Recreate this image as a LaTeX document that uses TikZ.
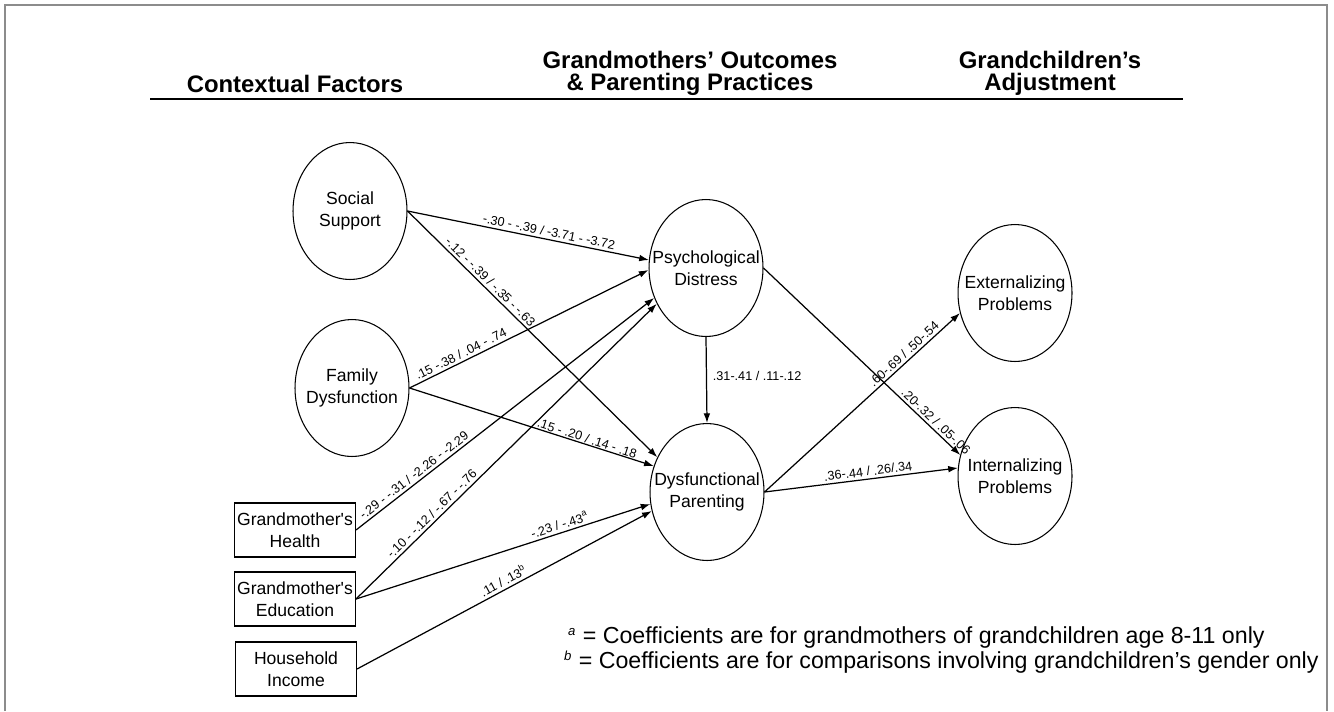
\documentclass[tikz,border=0pt]{standalone}
\usepackage{fontspec}
\setmainfont{Liberation Sans}
\usetikzlibrary{shapes.geometric, arrows.meta, positioning}

\tikzset{
	factor/.style={draw, ellipse, inner sep=0pt, line width=0.6pt, minimum width=2.28cm, minimum height=2.74cm},
	measure/.style={draw, rectangle, inner sep=1pt, line width=0.6pt, minimum width=2.42cm, minimum height=1.08cm, align=center, font=\fontsize{10}{12.5}\selectfont},
	name text/.style={align=center, font=\fontsize{10}{12.5}\selectfont},
	link/.style={-{Latex[length=5.5pt, width=3.8pt]}, line width=0.7pt},
	coef/.style={font=\fontsize{7.2}{8}\selectfont, sloped, above, inner sep=1.5pt},
	head/.style={align=center, font=\bfseries\fontsize{13.6}{12.5}\selectfont},
	note/.style={anchor=west, font=\fontsize{13.2}{15}\selectfont}
}
\newcommand{\fnmark}[1]{\textsuperscript{\itshape\fontsize{7.5}{8}\selectfont #1}}

\begin{document}
\begin{tikzpicture}[x=0.02cm, y=-0.02cm]
	\useasboundingbox (0,0) rectangle (1334,711);
	\draw[black!45, line width=1.6pt] (5,711) -- (5,5) -- (1327,5) -- (1327,711);

	% headings
	\node[head] (hctx) at (295,84) {Contextual Factors};
	\node[head] (hgm) at (690,73) {Grandmothers' Outcomes\\\& Parenting Practices};
	\node[head] (hgc) at (1050,73) {Grandchildren's\\Adjustment};
	\draw[line width=0.9pt] (150,99) -- (1183,99);

	% contextual factors
	\node[factor, label={[name text]center:Social\\Support}] (ss) at (350,211) {};
	\node[factor, label={[name text]center:Family\\Dysfunction}] (fd) at (352,388) {};
	\node[measure] (gh) at (295,530) {Grandmother\textquotesingle s\\Health};
	\node[measure] (ge) at (295,599) {Grandmother\textquotesingle s\\Education};
	\node[measure] (hi) at (296,669) {Household\\Income};

	% grandmothers
	\node[factor, label={[name text]center:Psychological\\Distress}] (pd) at (706,268) {};
	\node[factor, label={[name text]center:Dysfunctional\\Parenting}] (dp) at (707,492) {};

	% grandchildren
	\node[factor, label={[name text]center:Externalizing\\Problems}] (ep) at (1015,293) {};
	\node[factor, label={[name text]center:Internalizing\\Problems}] (ip) at (1015,476) {};

	% paths
	\draw[link] (ss.east) -- node[coef, pos=0.58] {-.30 - -.39 / -3.71 - -3.72} (pd.172);
	\draw[link] (ss.east) -- node[coef, pos=0.31] {-.12 - -.39 / -.35 - -.63} (dp.145);
	\draw[link] (fd.east) -- node[coef, pos=0.23] {.15 -.38 / .04 - .74} (pd.182);
	\draw[link] (fd.east) -- node[coef, pos=0.72, inner sep=0.5pt] {.15 - .20 / .14 - .18} (dp.154);
	\draw[link] (gh.east) -- node[coef, pos=0.21] {-.29 - -.31 / -2.26 - -2.29} (pd.210);
	\draw[link] (ge.east) -- node[coef, pos=0.27] {-.10 - -.12 / -.67 - -.76} (pd.216);
	\draw[link] (ge.east) -- node[coef, pos=0.70] {-.23 / -.43\textsuperscript{a}} (dp.192);
	\draw[link] (hi.east) -- node[coef, pos=0.51] {.11 / .13\textsuperscript{b}} (dp.199);
	\draw[link] (pd.south) -- node[pos=0.45, right, font=\fontsize{7.2}{8}\selectfont] {.31-.41 / .11-.12} (dp.north);
	\draw[link] (pd.east) -- node[coef, pos=0.85] {.20-.32 / .05-.06} (ip.159);
	\draw[link] (dp.east) -- node[coef, pos=0.74] {.60-.69 / .50-.54} (ep.200);
	\draw[link] (dp.east) -- node[coef, pos=0.54] {.36-.44 / .26/.34} (ip.172);

	% notes
	\node[note] (na) at (562,637) {\fnmark{a} = Coefficients are for grandmothers of grandchildren age 8-11 only};
	\node[note] (nb) at (558,662) {\fnmark{b} = Coefficients are for comparisons involving grandchildren's gender only};
\end{tikzpicture}
\end{document}
